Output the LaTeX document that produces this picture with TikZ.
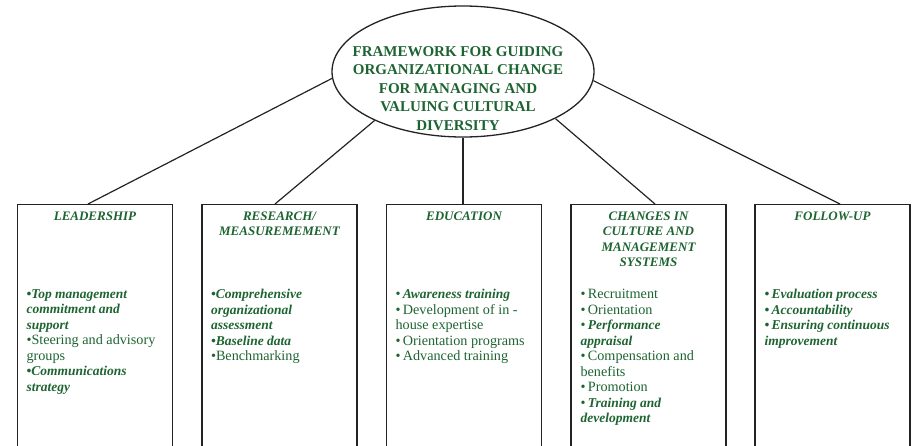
\documentclass[tikz,border=0pt]{standalone}
\usepackage{fontspec}
\setmainfont{Liberation Serif}
\usetikzlibrary{shapes.geometric,calc}
\definecolor{dkgreen}{RGB}{30,100,50}
\definecolor{edge}{RGB}{35,35,35}
\newcommand{\bl}{•}
\newcommand{\bi}[1]{{\fontsize{13.5}{15.5}\selectfont\bfseries\itshape #1}}
\begin{document}
\begin{tikzpicture}[x=1pt,y=-1pt,
  frame/.style={draw=edge, line width=1.3pt, minimum width=155pt, minimum height=270pt, anchor=north, inner sep=0pt},
  hub/.style={ellipse, draw=edge, line width=1.3pt, minimum width=262pt, minimum height=131pt, inner sep=0pt},
  link/.style={draw=edge, line width=1.2pt},
  hubtext/.style={text=dkgreen, font=\fontsize{15}{18.5}\selectfont\bfseries, align=center, inner sep=0pt},
  ttl/.style={text=dkgreen, font=\fontsize{13}{15.5}\selectfont\bfseries\itshape, align=center, anchor=north, inner sep=0pt},
  lst/.style={text=dkgreen, font=\fontsize{14.2}{15.5}\selectfont, align=left, anchor=north west, inner sep=0pt}
]
\useasboundingbox (0,0) rectangle (919,445);
\clip (0,0) rectangle (919,445);

\node[hub] (hub) at (463,71.5) {};
\node[hubtext] (hubt) at (458,88.5) {FRAMEWORK FOR GUIDING\\ORGANIZATIONAL CHANGE\\FOR MANAGING AND\\VALUING CULTURAL\\DIVERSITY};

\node[frame] (b1) at (95,204) {};
\node[frame] (b2) at (279.5,204) {};
\node[frame] (b3) at (464,204) {};
\node[frame] (b4) at (648.5,204) {};
\node[frame] (b5) at (832.5,204) {};

\draw[link] (hub.183.7) -- ($(b1.north)+(-7,0)$);
\draw[link] (hub.209.4) -- ($(b2.north)+(-4.5,0)$);
\draw[link] (hub.270) -- ($(b3.north)+(-1,0)$);
\draw[link] (hub.333.2) -- ($(b4.north)+(6.5,0)$);
\draw[link] (hub.356.3) -- ($(b5.north)+(7.5,0)$);

\node[ttl] (t1) at ($(b1.north)+(0,7.5)$) {LEADERSHIP};
\node[ttl] (t2) at ($(b2.north)+(0,7.5)$) {RESEARCH/\\MEASUREMEMENT};
\node[ttl] (t3) at ($(b3.north)+(0,7.5)$) {EDUCATION};
\node[ttl] (t4) at ($(b4.north)+(0,7.5)$) {CHANGES IN\\CULTURE AND\\MANAGEMENT\\SYSTEMS};
\node[ttl] (t5) at ($(b5.north)+(0,7.5)$) {FOLLOW-UP};

\node[lst] (l1) at ($(b1.north west)+(9.5,85)$) {%
\bi{\bl Top management}\\
\bi{commitment and}\\
\bi{support}\\
\bl Steering and advisory\\
groups\\
\bi{\bl Communications}\\
\bi{strategy}};

\node[lst] (l2) at ($(b2.north west)+(9.5,85)$) {%
\bi{\bl Comprehensive}\\
\bi{organizational}\\
\bi{assessment}\\
\bi{\bl Baseline data}\\
\bl Benchmarking};

\node[lst] (l3) at ($(b3.north west)+(9.5,85)$) {%
\bl\bi{\,Awareness training}\\
\bl\,Development of in -\\
house expertise\\
\bl\,Orientation programs\\
\bl\,Advanced training};

\node[lst] (l4) at ($(b4.north west)+(10,85)$) {%
\bl\,Recruitment\\
\bl\,Orientation\\
\bl\bi{\,Performance}\\
\bi{appraisal}\\
\bl\,Compensation and\\
benefits\\
\bl\,Promotion\\
\bl\bi{\,Training and}\\
\bi{development}};

\node[lst] (l5) at ($(b5.north west)+(10,85)$) {%
\bi{\bl\,Evaluation process}\\
\bi{\bl\,Accountability}\\
\bi{\bl\,Ensuring continuous}\\
\bi{improvement}};
\end{tikzpicture}
\end{document}
